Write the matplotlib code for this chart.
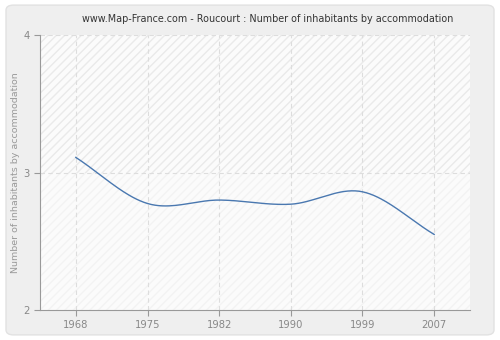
import numpy as np
import matplotlib.pyplot as plt
from matplotlib.patches import FancyBboxPatch

years = ["1968", "1975", "1982", "1990", "1999", "2007"]
values = [3.11, 2.775, 2.80, 2.77, 2.86, 2.55]
y_ticks = [2, 3, 4]

title = "www.Map-France.com - Roucourt : Number of inhabitants by accommodation"
ylabel = "Number of inhabitants by accommodation"


def smooth_curve(xs, ys, n=40):
    # cubic hermite with catmull-rom tangents
    xs = np.asarray(xs, float)
    ys = np.asarray(ys, float)
    m = np.zeros_like(ys)
    m[1:-1] = (ys[2:] - ys[:-2]) / (xs[2:] - xs[:-2])
    m[0] = (ys[1] - ys[0]) / (xs[1] - xs[0])
    m[-1] = (ys[-1] - ys[-2]) / (xs[-1] - xs[-2])
    out_x, out_y = [], []
    for i in range(len(xs) - 1):
        h = xs[i + 1] - xs[i]
        t = np.linspace(0, 1, n)
        h00 = 2 * t**3 - 3 * t**2 + 1
        h10 = t**3 - 2 * t**2 + t
        h01 = -2 * t**3 + 3 * t**2
        h11 = t**3 - t**2
        out_x.extend(xs[i] + t * h)
        out_y.extend(h00 * ys[i] + h10 * h * m[i] + h01 * ys[i + 1] + h11 * h * m[i + 1])
    return np.array(out_x), np.array(out_y)


fig = plt.figure(figsize=(5, 3.4), dpi=100)
fig.patch.set_facecolor("white")
bg = FancyBboxPatch((0.012, 0.015), 0.976, 0.97, boxstyle="round,pad=0,rounding_size=0.015",
                    transform=fig.transFigure, facecolor="#efefef", edgecolor="#e2e2e2",
                    linewidth=1, zorder=-10)
fig.patches.append(bg)

ax = fig.add_axes([0.08, 0.088, 0.86, 0.809])
ax.set_zorder(1)
ax.set_facecolor("#fbfbfb")

x = np.arange(len(years))
ax.axhspan(3, 4, facecolor="#fbfbfb", hatch="////", edgecolor="#eaeaea", linewidth=0, zorder=0)
ax.axhspan(2, 3, facecolor="#fbfbfb", hatch="////", edgecolor="#f3f3f3", linewidth=0, zorder=0)

for xi in x:
    ax.axvline(xi, color="#dddddd", linestyle=(0, (4, 3)), linewidth=0.8, zorder=1)
for yv in y_ticks[1:]:
    ax.axhline(yv, color="#dddddd", linestyle=(0, (4, 3)), linewidth=0.8, zorder=1)

sx, sy = smooth_curve(x, values)
ax.plot(sx, sy, color="#4a78b0", linewidth=1.0, zorder=3)

ax.set_xlim(-0.5, len(years) - 0.5)
ax.set_ylim(2, 4)
ax.set_xticks(x)
ax.set_xticklabels(years)
ax.set_yticks(y_ticks)

for side in ["top", "right"]:
    ax.spines[side].set_visible(False)
for side in ["left", "bottom"]:
    ax.spines[side].set_color("#999999")
ax.tick_params(colors="#999999", labelcolor="#888888", labelsize=7.2, length=4, width=0.8)

ax.set_ylabel(ylabel, color="#999999", fontsize=6.8, labelpad=2)
fig.text(0.535, 0.945, title, ha="center", va="center", fontsize=6.9, color="#333333")

fig.savefig("out.png", dpi=100, facecolor=fig.get_facecolor())
